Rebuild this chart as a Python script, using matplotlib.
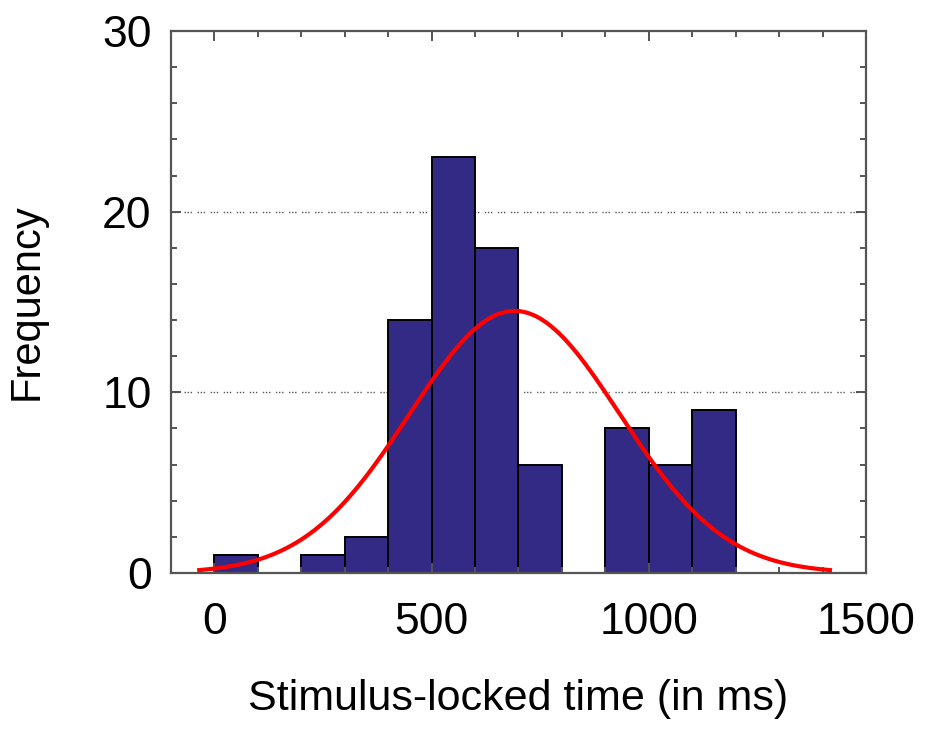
import numpy as np
import matplotlib
matplotlib.use("Agg")
import matplotlib.pyplot as plt
from matplotlib.ticker import MultipleLocator

# Histogram of response times (100 ms bins)
bin_left = [0, 100, 200, 300, 400, 500, 600, 700, 800, 900, 1000, 1100]
counts = [1, 0, 1, 2, 14, 23, 18, 6, 0, 8, 6, 9]
bin_width = 100

# Fitted normal curve parameters (ms)
fit_mean = 691
fit_sd = 242

x_ticks = [0, 500, 1000, 1500]
y_ticks = [0, 10, 20, 30]

plt.rcParams['font.family'] = ['Liberation Sans', 'DejaVu Sans']

fig = plt.figure(figsize=(9.28, 7.35), dpi=100)
ax = fig.add_axes([171 / 928, 1 - 573 / 735, 695 / 928, 542 / 735])

# dotted horizontal guides behind the bars
for yv in (10, 20):
    ax.axhline(yv, color='#555555', lw=1.0, ls=(0, (1, 1.2, 1, 1.2, 1, 4)), zorder=0)

ax.bar(bin_left, counts, width=bin_width, align='edge', color='#332a86',
       edgecolor='black', linewidth=1.4, zorder=1)

n_total = sum(counts)
xs = np.linspace(fit_mean - 3 * fit_sd, fit_mean + 3 * fit_sd, 400)
ys = n_total * bin_width / (fit_sd * np.sqrt(2 * np.pi)) * np.exp(-0.5 * ((xs - fit_mean) / fit_sd) ** 2)
ax.plot(xs, ys, color='#ff0000', lw=3.0, zorder=3)

ax.set_xlim(-100, 1500)
ax.set_ylim(0, 30)
ax.set_xticks(x_ticks)
ax.set_yticks(y_ticks)
ax.xaxis.set_minor_locator(MultipleLocator(100))
ax.yaxis.set_minor_locator(MultipleLocator(2))

for s in ax.spines.values():
    s.set_color('#555555')
    s.set_linewidth(1.6)

ax.tick_params(which='both', direction='in', top=True, right=True, color='#555555', width=1.4)
ax.tick_params(which='major', length=7, labelsize=32)
ax.tick_params(axis='x', which='major', pad=21)
ax.tick_params(axis='y', which='major', pad=14)
ax.tick_params(which='minor', length=4)

ax.set_xlabel('Stimulus-locked time (in ms)', fontsize=31, labelpad=26)
ax.set_ylabel('Frequency', fontsize=30, labelpad=40)

fig.savefig('out.png', dpi=100)
